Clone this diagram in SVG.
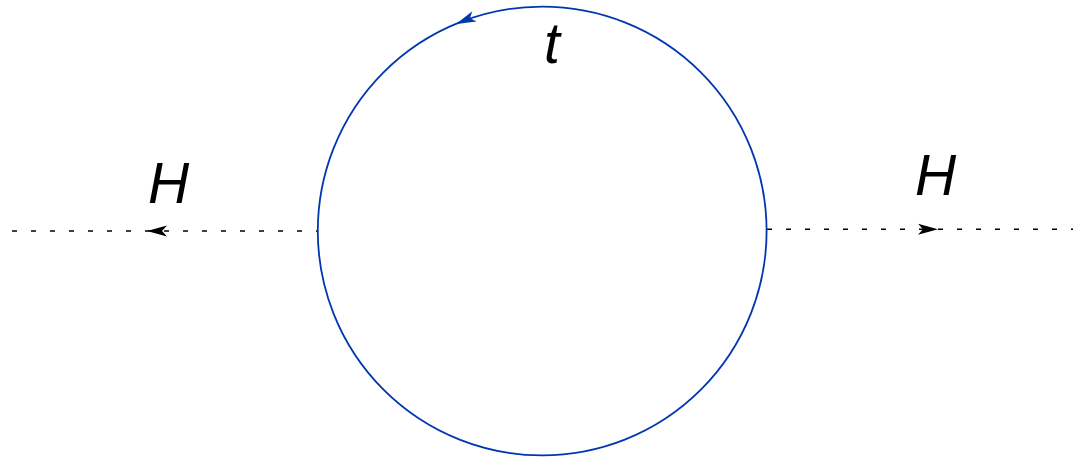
<svg xmlns="http://www.w3.org/2000/svg" width="1078" height="459" viewBox="0 0 1078 459">
  <style>
    .lbl { font-family: "Liberation Sans", Arial, sans-serif; font-style: italic; font-size: 57px; fill: #000; }
    .scalar { fill: none; stroke: #000; stroke-width: 1.6; stroke-dasharray: 5 14; }
    .loop { fill: none; stroke: #0037b0; stroke-width: 1.8; }
  </style>
  <defs>
    <path id="ah" d="M0,0 L-20,-5.5 L-15,0 L-20,5.5 Z"/>
  </defs>
  <rect width="1078" height="459" fill="#fff"/>
  <g id="connectors">
    <line class="scalar" x1="12" y1="231" x2="318" y2="231"/>
    <use href="#ah" fill="#000" transform="translate(147,231) rotate(180)"/>
    <line class="scalar" x1="767" y1="229.3" x2="1073" y2="229.3"/>
    <use href="#ah" fill="#000" transform="translate(938,229.3)"/>
  </g>
  <g id="loop">
    <circle class="loop" cx="542.2" cy="231" r="224.4"/>
    <use href="#ah" fill="#0037b0" transform="translate(456,24) rotate(157.4)"/>
    <text class="lbl" x="544" y="63">t</text>
  </g>
  <g id="H-left">
    <text class="lbl" x="148" y="203">H</text>
  </g>
  <g id="H-right">
    <text class="lbl" x="915" y="195">H</text>
  </g>
</svg>
